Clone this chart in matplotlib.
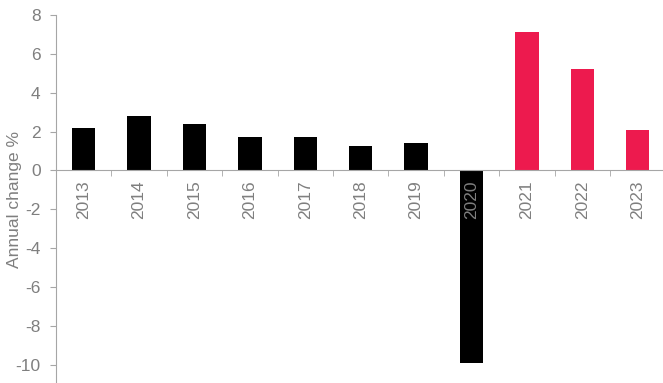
import numpy as np
import matplotlib
matplotlib.use("Agg")
import matplotlib.pyplot as plt

# annual change, per cent
years = ["2013", "2014", "2015", "2016", "2017", "2018", "2019", "2020", "2021", "2022", "2023"]
change = [2.2, 2.8, 2.4, 1.7, 1.7, 1.25, 1.4, -9.9, 7.1, 5.2, 2.1]
forecast = [False] * 8 + [True] * 3

BLACK = "#000000"
RED = "#ED1A4E"
GREY = "#7F7F7F"
AXIS = "#A6A6A6"
FS = 12.5

plt.rcParams["font.family"] = ["Liberation Sans", "DejaVu Sans"]
plt.rcParams["axes.unicode_minus"] = False

fig = plt.figure(figsize=(6.63, 3.83), dpi=100)
ax = fig.add_axes([56 / 663, 1 - 384.3 / 383, 609.4 / 663, 369.3 / 383])

x = np.arange(len(years))
colours = [RED if f else BLACK for f in forecast]
ax.bar(x, change, width=0.42, color=colours, zorder=1)

ax.set_xlim(-0.5, len(years) - 0.5)
ax.set_ylim(-11, 8)
ax.set_yticks(np.arange(-10, 9, 2))

# x axis sits on zero, ticks mark category boundaries
ax.spines["bottom"].set_position(("data", 0))
ax.spines["top"].set_visible(False)
ax.spines["right"].set_visible(False)
ax.spines["bottom"].set_color(AXIS)
ax.spines["left"].set_color(AXIS)

ax.set_xticks(x)
ax.set_xticklabels(years, rotation=90, color=GREY, fontsize=FS)
ax.set_xticks(np.arange(-0.5, len(years), 1), minor=True)
ax.tick_params(axis="x", which="major", length=0, pad=7)
ax.tick_params(axis="x", which="minor", length=4, color=AXIS, direction="out")
ax.tick_params(axis="y", length=4, color=AXIS, labelcolor=GREY, labelsize=FS, pad=7)

ax.set_ylabel("Annual change %", color=GREY, fontsize=FS)
ax.yaxis.set_label_coords(-34 / 609.4, 0.5)

fig.savefig("out.png", dpi=100)
